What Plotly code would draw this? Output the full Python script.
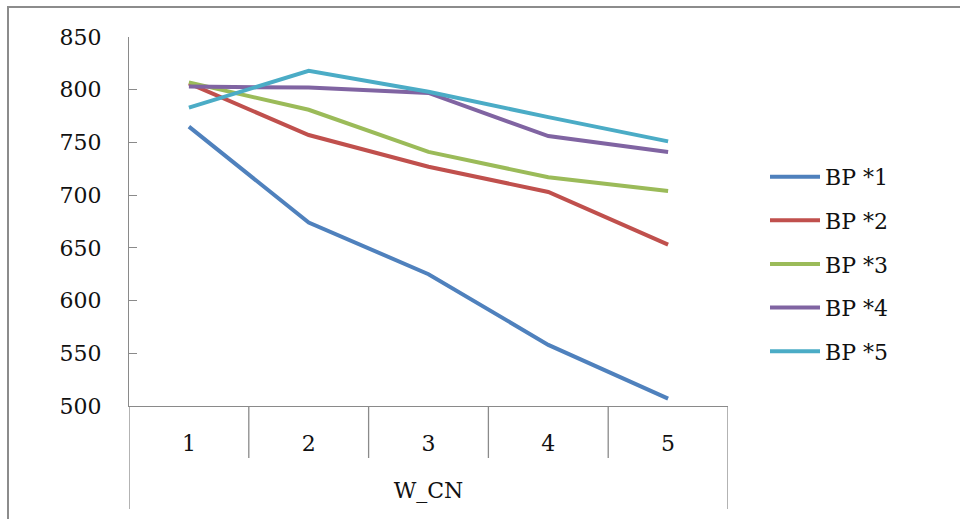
import plotly.graph_objects as go

categories = [1, 2, 3, 4, 5]
series_names = ["BP *1", "BP *2", "BP *3", "BP *4", "BP *5"]
bp1 = [765, 674, 625, 558, 507]
bp2 = [806, 757, 727, 703, 653]
bp3 = [807, 781, 741, 717, 704]
bp4 = [803, 802, 797, 756, 741]
bp5 = [783, 818, 798, 774, 751]
y_ticks = [500, 550, 600, 650, 700, 750, 800, 850]
x_title = "W_CN"

colors = ["#4F81BD", "#C0504D", "#9BBB59", "#8064A2", "#4BACC6"]
FONT = "DejaVu Serif"
AX = "#8a8a8a"

fig = go.Figure()
for name, vals, c in zip(series_names, [bp1, bp2, bp3, bp4, bp5], colors):
    fig.add_trace(go.Scatter(x=categories, y=vals, name=name, mode="lines",
                             line=dict(color=c, width=4), legendgroup=name))

W, H = 960, 519
L, R, T, B = 129, 232, 37, 113
pw, ph = W - L - R, H - T - B

def px_x(x):
    return (x - L) / pw

def px_y(y):
    return (H - B - y) / ph

shapes = []
# category separators below the axis
for i in range(len(categories) + 1):
    xb = categories[0] - 0.5 + i
    bottom = 509 if i in (0, len(categories)) else 458
    shapes.append(dict(type="line", xref="x", yref="paper", x0=xb, x1=xb,
                       y0=0, y1=px_y(bottom), line=dict(color=AX, width=1.3)))
# outer chart frame
shapes.append(dict(type="rect", xref="paper", yref="paper",
                   x0=px_x(8), x1=px_x(990), y0=px_y(540), y1=px_y(7),
                   line=dict(color="#8c8c8c", width=2)))

fig.update_layout(
    width=W, height=H,
    margin=dict(l=L, r=R, t=T, b=B),
    paper_bgcolor="white", plot_bgcolor="white",
    font=dict(family=FONT, size=22, color="#111111"),
    shapes=shapes,
    showlegend=True,
    legend=dict(x=px_x(765), xanchor="left", y=0.385, yanchor="middle",
                font=dict(size=22, family=FONT), tracegroupgap=12,
                bgcolor="rgba(0,0,0,0)", itemwidth=50),
    xaxis=dict(range=[0.5, 5.5], tickmode="array", tickvals=categories,
               ticktext=[str(c) for c in categories], showgrid=False,
               zeroline=False, showline=True, linecolor=AX, linewidth=1.3,
               ticks="", ticklabelstandoff=17, tickfont=dict(size=22),
               title=dict(text=x_title, standoff=28, font=dict(size=22))),
    yaxis=dict(range=[500, 850], tickmode="array", tickvals=y_ticks,
               showgrid=False, zeroline=False, showline=True, linecolor=AX,
               linewidth=1.3, ticks="inside", ticklen=8, tickcolor=AX,
               tickwidth=1.3, ticklabelstandoff=22, tickfont=dict(size=22)),
)

fig.write_html("out.html")
